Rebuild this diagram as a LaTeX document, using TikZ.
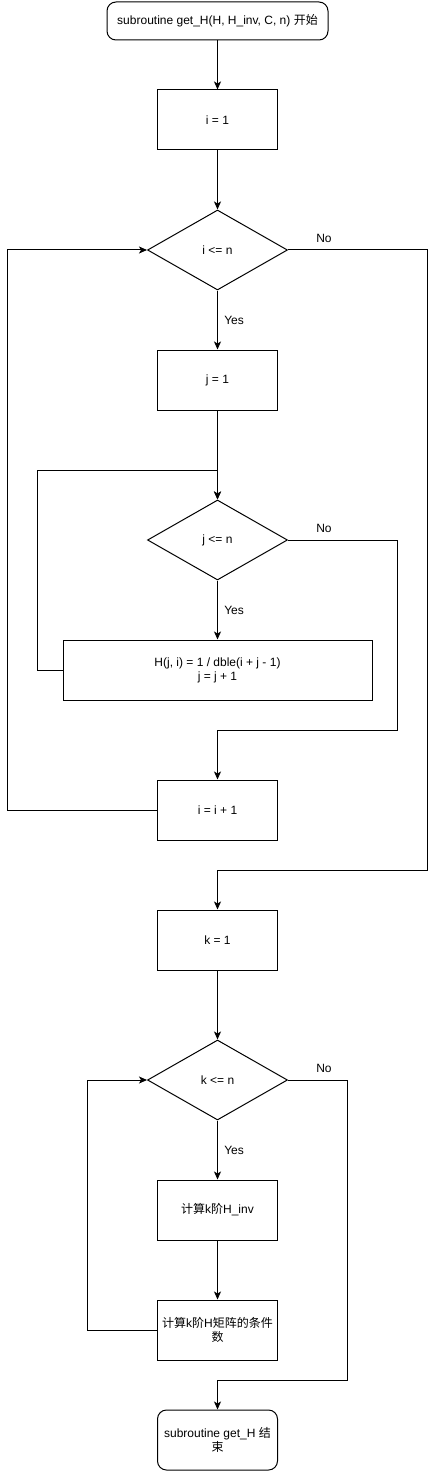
\documentclass[tikz,border=0pt]{standalone}
\usepackage{fontspec}
\setmainfont{Liberation Sans}
\newfontfamily\cjk{Noto Sans CJK SC}
\usetikzlibrary{shapes.geometric, arrows, arrows.meta, positioning, calc}
\tikzstyle{startstop} = [rectangle, rounded corners=9pt, minimum width=120pt, minimum height=60pt, text centered, align=center, draw=black]
\tikzstyle{process} = [rectangle, minimum width=120pt, minimum height=60pt, text centered, align=center, draw=black]
\tikzstyle{decision} = [diamond, minimum width=140pt, minimum height=80pt, inner sep=0pt, text centered, draw=black]
\tikzstyle{arrow} = [->,>={Stealth[length=8pt, width=7pt, inset=2pt]}]

\begin{document}
\begin{tikzpicture}[x=1pt, y=-1pt, node distance=130pt, line width=1pt, font=\fontsize{12}{14}\selectfont]
\useasboundingbox (0,0) rectangle (436,1471);
\node (start) [startstop, minimum width=221pt, minimum height=38pt] at (217.5,21) {subroutine get\_H(H, H\_inv, C, n) {\cjk 开始}};
\node (init_i) [process, node distance=99pt, below of=start] {i = 1};
\node (cond_i) [decision, below of=init_i] {i <= n};
\node (init_j) [process, below of=cond_i] {j = 1};
\node (cond_j) [decision, node distance=160pt, below of=init_j] {j <= n};
\node (calc_h) [process, minimum width=309pt, below of=cond_j] {H(j, i) = 1 / dble(i + j - 1)\\j = j + 1};
\node (inc_i) [process, node distance=140pt, below of=calc_h] {i = i + 1};
\node (init_k) [process, below of=inc_i] {k = 1};
\node (cond_k) [decision, node distance=140pt, below of=init_k] {k <= n};
\node (calc_inv) [process, below of=cond_k] {{\cjk 计算}k{\cjk 阶}H\_inv};
\node (calc_cond) [process, node distance=120pt, below of=calc_inv] {{\cjk 计算}k{\cjk 阶}H{\cjk 矩阵的条件}\\{\cjk 数}};
\node (stop) [startstop, node distance=110pt, below of=calc_cond] {subroutine get\_H {\cjk 结}\\{\cjk 束}};

% bends of the loops
\coordinate (no_i) at (427,870);
\coordinate (no_j) at (397,730);
\coordinate (no_k) at (347,1380);
\coordinate (loop_i) at (7,250);
\coordinate (loop_j) at (37,470);
\coordinate (loop_k) at (87,1080);

\draw [arrow] (start) -- (init_i);
\draw [arrow] (init_i) -- (cond_i);
\draw [arrow] (cond_i) -- node[right=3pt] {Yes} (init_j);
\draw [arrow] (init_j) -- (cond_j);
\draw [arrow] (cond_j) -- node[right=3pt] {Yes} (calc_h);
\draw [arrow] (calc_h.west) -| (loop_j) -| (cond_j.north);
\draw [arrow] (cond_j.east) -| (no_j) -| (inc_i.north);
\draw [arrow] (inc_i.west) -| (loop_i) -- (cond_i.west);
\draw [arrow] (cond_i.east) -| (no_i) -| (init_k.north);
\draw [arrow] (init_k) -- (cond_k);
\draw [arrow] (cond_k) -- node[right=3pt] {Yes} (calc_inv);
\draw [arrow] (calc_inv) -- (calc_cond);
\draw [arrow] (calc_cond.west) -| (loop_k) -- (cond_k.west);
\draw [arrow] (cond_k.east) -| (no_k) -| (stop.north);

\node at ($(cond_i.east)+(36,-12)$) {No};
\node at ($(cond_j.east)+(36,-12)$) {No};
\node at ($(cond_k.east)+(36,-12)$) {No};
\end{tikzpicture}
\end{document}
